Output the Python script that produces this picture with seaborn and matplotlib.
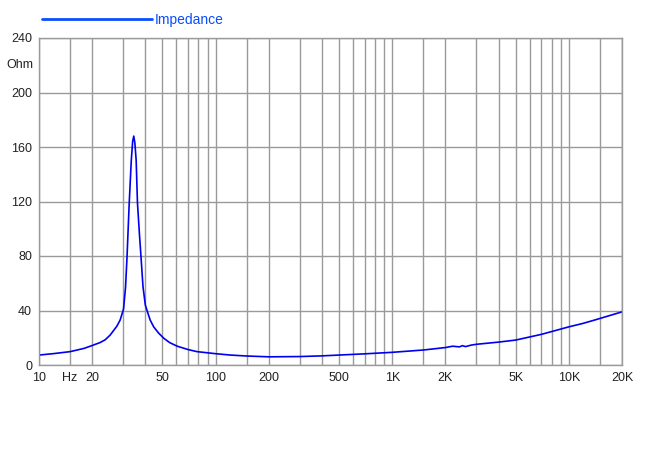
import matplotlib
matplotlib.use("Agg")
import matplotlib.pyplot as plt
import seaborn as sns
import pandas as pd

freq = [10, 12, 15, 18, 20, 22.2, 23.7, 25.3, 27.6, 28.8, 30.1, 30.9, 31.5, 32.4,
        33.3, 33.9, 34.4, 34.9, 35.5, 36.1, 37.0, 37.8, 38.8, 40, 40.9, 42.6, 44.6,
        47.5, 50.9, 55, 60.6, 70, 78.5, 100, 121, 150, 200, 300, 400, 500, 700,
        1000, 1500, 2000, 2200, 2400, 2500, 2600, 2800, 3000, 4000, 5000, 7000,
        10000, 12000, 14000, 20000]
impedance = [7.3, 8.3, 9.8, 12.2, 14.3, 16.5, 18.5, 22, 28.5, 33, 41, 57, 79, 118,
             150, 164, 168, 163, 150, 119, 97, 79.5, 57.5, 44, 40, 33, 28,
             23.5, 19.6, 16.4, 13.8, 11.3, 9.8, 8.3, 7.3, 6.6, 6.0, 6.2, 6.7, 7.3, 8.2,
             9.3, 11.0, 12.8, 13.8, 13.3, 14.2, 13.5, 14.6, 15.2, 16.8, 18.3, 22.5,
             28, 30.5, 33, 39]

x_ticks = [10, 15, 20, 50, 100, 200, 500, 1000, 2000, 5000, 10000, 20000]
x_labels = ["10", "Hz", "20", "50", "100", "200", "500", "1K", "2K", "5K", "10K", "20K"]
y_ticks = [0, 40, 80, 120, 160, 200, 240]

df = pd.DataFrame({"freq": freq, "impedance": impedance})

sns.set_style("white")
plt.rcParams["font.family"] = ["Liberation Sans", "DejaVu Sans"]

fig = plt.figure(figsize=(6.5, 4.54), dpi=100)
ax = fig.add_axes([39 / 650, 89 / 454, 583 / 650, 327 / 454])

sns.lineplot(data=df, x="freq", y="impedance", ax=ax, color="#0000ee",
             linewidth=1.2, label="Impedance", sort=False)

ax.set_xscale("log")
ax.set_xlim(10, 20000)
ax.set_ylim(0, 240)

# linhas de grade verticais em 10, 15, 20..100, 150, 200..1000 etc
grid_x = []
for dec in [10, 100, 1000, 10000]:
    for m in [1, 1.5, 2, 3, 4, 5, 6, 7, 8, 9]:
        if dec * m <= 20000:
            grid_x.append(dec * m)
grid_x.append(20000)
for gx in grid_x:
    ax.axvline(gx, color="#9a9a9a", linewidth=1, zorder=0)
for gy in y_ticks:
    ax.axhline(gy, color="#9a9a9a", linewidth=1, zorder=0)

ax.set_xticks(x_ticks)
ax.set_xticklabels(x_labels)
ax.minorticks_off()
ax.set_yticks(y_ticks)
ax.tick_params(axis="both", length=0, labelsize=9, colors="#222222")
ax.tick_params(axis="x", pad=5)
ax.tick_params(axis="y", pad=5)
ax.text(-0.01, 220, "Ohm", transform=ax.get_yaxis_transform(), ha="right",
        va="center", fontsize=9, color="#222222")

for s in ax.spines.values():
    s.set_color("#9a9a9a")
    s.set_linewidth(1)

ax.set_xlabel("")
ax.set_ylabel("")

leg = ax.legend(loc="center left", bbox_to_anchor=(42 / 650, 1 - 20 / 454),
                bbox_transform=fig.transFigure, frameon=False, handlelength=7.9,
                handletextpad=0.2, borderpad=0, borderaxespad=0, fontsize=10)
leg.get_lines()[0].set_color("#0a4cff")
leg.get_lines()[0].set_linewidth(2)
for t in leg.get_texts():
    t.set_color("#0a4cff")

fig.savefig("out.png", dpi=100)
